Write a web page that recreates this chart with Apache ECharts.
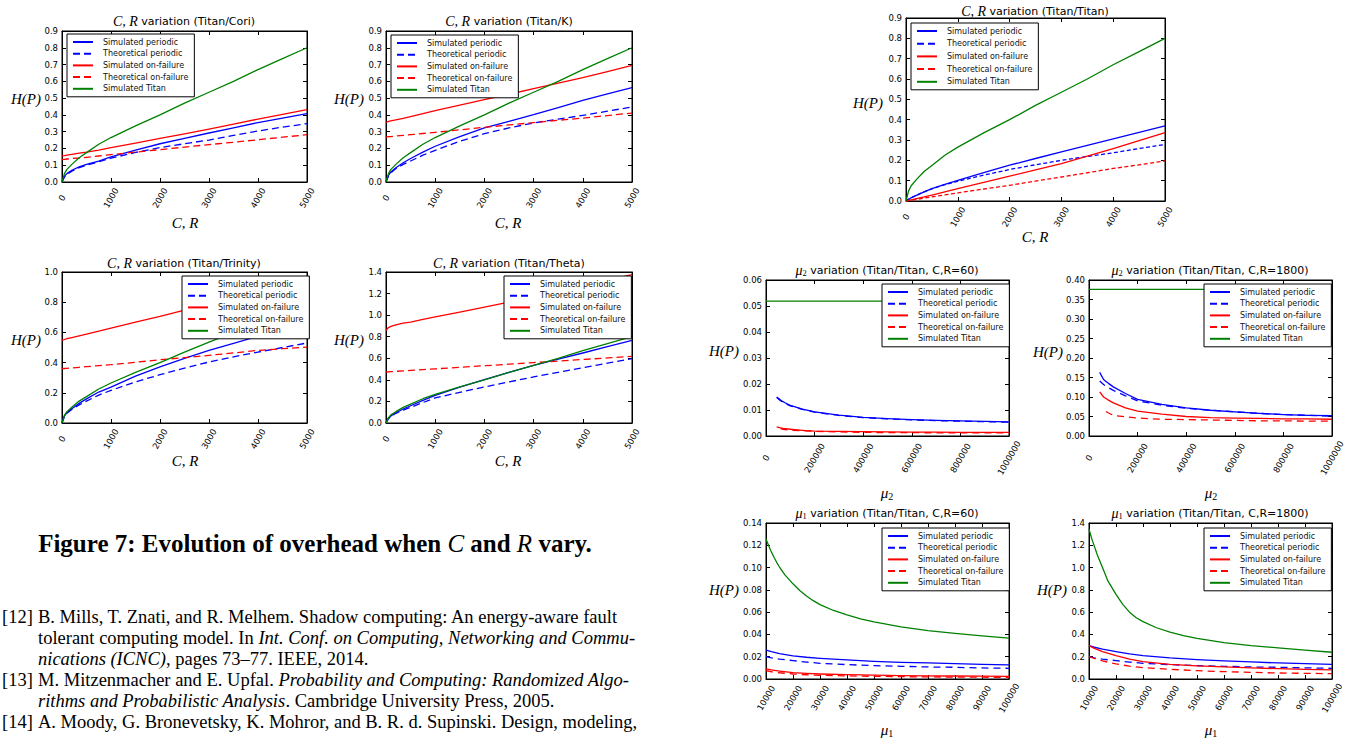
<!DOCTYPE html>
<html><head><meta charset="utf-8">
<script src="https://cdn.jsdelivr.net/npm/echarts@6/dist/echarts.min.js"></script>
<style>html,body{margin:0;padding:0;background:#fff}#c{width:1352px;height:739px}</style>
</head><body><div id="c"></div>
<script>
// ---------------- DATA ----------------
const SERIES_NAMES = ['Simulated periodic', 'Theoretical periodic', 'Simulated on-failure', 'Theoretical on-failure', 'Simulated Titan'];

// C,R variation plots (x = C,R)
const crX = [0, 50, 100, 200, 350, 500, 750, 1000, 1500, 2000, 2500, 3000, 3500, 4000, 4500, 5000];
const titanSimCR = [0.0, 0.05, 0.075, 0.105, 0.145, 0.175, 0.225, 0.265, 0.335, 0.40, 0.47, 0.535, 0.60, 0.67, 0.735, 0.80];

const coriSimPer   = [0, 0.035, 0.05, 0.07, 0.09, 0.105, 0.125, 0.15, 0.19, 0.228, 0.26, 0.292, 0.323, 0.354, 0.381, 0.407];
const coriTheoPer  = [0, 0.03, 0.045, 0.065, 0.085, 0.1, 0.12, 0.142, 0.176, 0.205, 0.228, 0.25, 0.278, 0.304, 0.327, 0.348];
const coriSimFail  = [0.155, 0.157, 0.16, 0.165, 0.172, 0.178, 0.19, 0.205, 0.232, 0.26, 0.287, 0.315, 0.345, 0.375, 0.403, 0.431];
const coriTheoFail = [0.133, 0.135, 0.137, 0.14, 0.143, 0.147, 0.155, 0.163, 0.178, 0.193, 0.208, 0.223, 0.237, 0.252, 0.267, 0.282];

const kSimPer   = [0, 0.04, 0.06, 0.085, 0.115, 0.14, 0.178, 0.213, 0.27, 0.322, 0.362, 0.401, 0.444, 0.487, 0.525, 0.562];
const kTheoPer  = [0, 0.035, 0.055, 0.08, 0.105, 0.125, 0.16, 0.189, 0.243, 0.288, 0.322, 0.352, 0.375, 0.397, 0.422, 0.447];
const kSimFail  = [0.356, 0.361, 0.364, 0.37, 0.379, 0.389, 0.407, 0.425, 0.458, 0.491, 0.523, 0.556, 0.589, 0.622, 0.658, 0.695];
const kTheoFail = [0.268, 0.27, 0.271, 0.274, 0.278, 0.282, 0.289, 0.296, 0.311, 0.326, 0.34, 0.354, 0.368, 0.381, 0.396, 0.411];

const trinitySimPer   = [0, 0.048, 0.068, 0.095, 0.13, 0.16, 0.205, 0.238, 0.31, 0.371, 0.428, 0.481, 0.528, 0.574, 0.622, 0.669];
const trinityTheoPer  = [0, 0.045, 0.065, 0.09, 0.12, 0.145, 0.185, 0.216, 0.272, 0.32, 0.363, 0.404, 0.438, 0.47, 0.5, 0.53];
const trinitySimFail  = [0.547, 0.553, 0.558, 0.566, 0.577, 0.589, 0.609, 0.629, 0.668, 0.706, 0.748, 0.79, 0.828, 0.866, 0.903, 0.94];
const trinityTheoFail = [0.36, 0.361, 0.362, 0.365, 0.369, 0.373, 0.38, 0.386, 0.402, 0.419, 0.433, 0.448, 0.464, 0.481, 0.492, 0.503];

const thetaSimPer   = [0, 0.045, 0.065, 0.095, 0.13, 0.16, 0.21, 0.257, 0.332, 0.402, 0.47, 0.535, 0.592, 0.649, 0.708, 0.766];
const thetaTheoPer  = [0, 0.04, 0.06, 0.09, 0.12, 0.145, 0.19, 0.232, 0.285, 0.334, 0.381, 0.427, 0.47, 0.513, 0.555, 0.597];
const thetaSimFail  = [0.859, 0.885, 0.895, 0.91, 0.925, 0.936, 0.96, 0.983, 1.029, 1.075, 1.121, 1.168, 1.22, 1.272, 1.324, 1.376];
const thetaTheoFail = [0.473, 0.474, 0.476, 0.479, 0.483, 0.488, 0.495, 0.502, 0.516, 0.531, 0.545, 0.56, 0.574, 0.589, 0.603, 0.618];

const titanSimPer   = [0, 0.008, 0.016, 0.028, 0.045, 0.061, 0.082, 0.102, 0.14, 0.176, 0.209, 0.242, 0.274, 0.306, 0.338, 0.369];
const titanTheoPer  = [0, 0.008, 0.016, 0.028, 0.045, 0.06, 0.08, 0.097, 0.127, 0.155, 0.178, 0.2, 0.219, 0.237, 0.258, 0.278];
const titanSimFail  = [0, 0.003, 0.006, 0.012, 0.02, 0.029, 0.045, 0.061, 0.092, 0.122, 0.153, 0.184, 0.221, 0.258, 0.297, 0.336];
const titanTheoFail = [0, 0.002, 0.004, 0.008, 0.014, 0.02, 0.03, 0.04, 0.059, 0.077, 0.098, 0.118, 0.139, 0.16, 0.178, 0.197];

// mu2 variation plots
const mu2X = [44000, 60000, 70000, 80000, 100000, 150000, 200000, 300000, 400000, 500000, 600000, 700000, 800000, 900000, 1000000];
const mu2TitanX = [0, 1000000];
const mu2c60SimPer   = [0.015, 0.0138, 0.0132, 0.0127, 0.0118, 0.0103, 0.00925, 0.008, 0.0072, 0.0067, 0.0063, 0.006, 0.0058, 0.0056, 0.0054];
const mu2c60TheoPer  = [0.0148, 0.0136, 0.013, 0.0125, 0.0116, 0.0102, 0.0092, 0.0079, 0.0071, 0.0066, 0.0062, 0.0059, 0.0057, 0.0055, 0.0053];
const mu2c60SimFail  = [0.0035, 0.0031, 0.0029, 0.0028, 0.0026, 0.0022, 0.0019, 0.0018, 0.0017, 0.0016, 0.0015, 0.0015, 0.0014, 0.0014, 0.0014];
const mu2c60TheoFail = [null, 0.0028, 0.0026, 0.0025, 0.0022, 0.002, 0.0018, 0.0016, 0.0014, 0.0013, 0.0013, 0.0012, 0.0012, 0.0012, 0.0012];
const mu2c60Titan    = [0.0519, 0.0519];
const mu2c1800SimPer   = [0.163, 0.145, 0.14, 0.135, 0.126, 0.109, 0.094, 0.081, 0.072, 0.066, 0.062, 0.058, 0.055, 0.053, 0.052];
const mu2c1800TheoPer  = [0.141, 0.132, 0.128, 0.124, 0.117, 0.103, 0.09, 0.079, 0.071, 0.066, 0.062, 0.058, 0.055, 0.053, 0.051];
const mu2c1800SimFail  = [0.113, 0.1, 0.096, 0.092, 0.085, 0.072, 0.064, 0.056, 0.05, 0.047, 0.046, 0.045, 0.044, 0.044, 0.043];
const mu2c1800TheoFail = [null, null, 0.063, 0.059, 0.053, 0.049, 0.046, 0.043, 0.042, 0.041, 0.04, 0.039, 0.039, 0.038, 0.038];
const mu2c1800Titan    = [0.376, 0.376];

// mu1 variation plots
const mu1X = [10000, 12000, 15000, 20000, 25000, 30000, 40000, 50000, 60000, 70000, 80000, 90000, 100000];
const mu1TitanX = [10000, 11000, 12000, 13000, 14000, 15000, 17000, 20000, 22500, 25000, 27500, 30000, 35000, 40000, 45000, 50000, 60000, 70000, 80000, 90000, 100000];
const mu1c60SimPer   = [0.026, 0.0245, 0.0228, 0.0207, 0.0195, 0.0186, 0.0171, 0.0159, 0.015, 0.0144, 0.0138, 0.0132, 0.0126];
const mu1c60TheoPer  = [0.0201, 0.019, 0.0178, 0.0165, 0.0152, 0.0141, 0.0129, 0.012, 0.0114, 0.0108, 0.0105, 0.0099, 0.0096];
const mu1c60SimFail  = [0.009, 0.0081, 0.0071, 0.0057, 0.005, 0.0045, 0.0039, 0.0034, 0.003, 0.0028, 0.0027, 0.0025, 0.0024];
const mu1c60TheoFail = [0.0075, 0.0065, 0.0056, 0.0045, 0.0038, 0.0033, 0.0028, 0.0024, 0.0021, 0.0019, 0.0017, 0.0016, 0.0015];
const mu1c60Titan    = [0.1256, 0.1195, 0.114, 0.109, 0.1045, 0.1005, 0.0935, 0.0854, 0.0795, 0.0745, 0.0703, 0.0668, 0.0615, 0.0576, 0.054, 0.0512, 0.0468, 0.0435, 0.041, 0.0387, 0.0366];
const mu1c1800SimPer   = [0.30, 0.285, 0.268, 0.246, 0.226, 0.21, 0.189, 0.174, 0.162, 0.153, 0.144, 0.138, 0.132];
const mu1c1800TheoPer  = [0.2, 0.19, 0.178, 0.165, 0.152, 0.141, 0.129, 0.12, 0.114, 0.108, 0.105, 0.1, 0.096];
const mu1c1800SimFail  = [0.30, 0.275, 0.246, 0.21, 0.178, 0.156, 0.132, 0.117, 0.108, 0.099, 0.093, 0.087, 0.081];
const mu1c1800TheoFail = [0.2, 0.184, 0.162, 0.135, 0.115, 0.102, 0.087, 0.075, 0.066, 0.06, 0.054, 0.051, 0.048];
const mu1c1800Titan    = [1.346, 1.26, 1.19, 1.12, 1.06, 1.0, 0.88, 0.76, 0.67, 0.6, 0.55, 0.515, 0.46, 0.42, 0.39, 0.365, 0.327, 0.30, 0.28, 0.26, 0.24];

// Text
const captionText = '{b|Figure 7: Evolution of overhead when }{i|C}{b| and }{i|R}{b| vary.}';
const refLabels = ['[12]', '', '', '[13]', '', '[14]'];
const refLines = [
  'B. Mills, T. Znati, and R. Melhem. Shadow computing: An energy-aware fault',
  'tolerant computing model. In {i|Int. Conf. on Computing, Networking and Commu-}',
  '{i|nications (ICNC)}, pages 73–77. IEEE, 2014.',
  'M. Mitzenmacher and E. Upfal. {i|Probability and Computing: Randomized Algo-}',
  '{i|rithms and Probabilistic Analysis}. Cambridge University Press, 2005.',
  'A. Moody, G. Bronevetsky, K. Mohror, and B. R. d. Supinski. Design, modeling,'
];

// ---------------- LAYOUT ----------------
const COLORS = ['#0000ff', '#0000ff', '#ff0000', '#ff0000', '#008000'];
const DASHED = [false, true, false, true, false];
const crTitle = (s) => '{i|C, R}{n| variation (' + s + ')}';
const muTitle = (k, s) => '{i|μ}{s|' + k + '}{n| variation (' + s + ')}';

const charts = [
  { grid: [62, 31, 245, 151], xMin: 0, xMax: 5000, xInt: 1000, yMax: 0.9, yInt: 0.1, yDec: 1, xMargin: 16,
    data: [[crX, coriSimPer], [crX, coriTheoPer], [crX, coriSimFail], [crX, coriTheoFail], [crX, titanSimCR]],
    title: crTitle('Titan/Cori'), titlePos: [184, 21], yNamePos: [26, 99], xName: '{i|C, R}', xNamePos: [185, 223],
    legend: [67, 34], gap: 3.7, dash: [7, 4] },
  { grid: [386, 31, 246, 151], xMin: 0, xMax: 5000, xInt: 1000, yMax: 0.9, yInt: 0.1, yDec: 1, xMargin: 16,
    data: [[crX, kSimPer], [crX, kTheoPer], [crX, kSimFail], [crX, kTheoFail], [crX, titanSimCR]],
    title: crTitle('Titan/K'), titlePos: [509, 21], yNamePos: [349, 99], xName: '{i|C, R}', xNamePos: [508, 223],
    legend: [391, 35], gap: 3.7, dash: [7, 4] },
  { grid: [62, 272, 245, 151], xMin: 0, xMax: 5000, xInt: 1000, yMax: 1.0, yInt: 0.2, yDec: 1, xMargin: 16,
    data: [[crX, trinitySimPer], [crX, trinityTheoPer], [crX, trinitySimFail], [crX, trinityTheoFail], [crX, titanSimCR]],
    title: crTitle('Titan/Trinity'), titlePos: [184, 263], yNamePos: [26, 340], xName: '{i|C, R}', xNamePos: [185, 461],
    legend: [182, 276], gap: 3.7, dash: [7, 4] },
  { grid: [386, 272, 246, 151], xMin: 0, xMax: 5000, xInt: 1000, yMax: 1.4, yInt: 0.2, yDec: 1, xMargin: 16,
    data: [[crX, thetaSimPer], [crX, thetaTheoPer], [crX, thetaSimFail], [crX, thetaTheoFail], [crX, titanSimCR]],
    title: crTitle('Titan/Theta'), titlePos: [509, 263], yNamePos: [349, 340], xName: '{i|C, R}', xNamePos: [508, 461],
    legend: [504, 276], gap: 3.7, dash: [7, 4] },
  { grid: [906, 18, 259, 183], xMin: 0, xMax: 5000, xInt: 1000, yMax: 0.9, yInt: 0.1, yDec: 1, xMargin: 16,
    data: [[crX, titanSimPer], [crX, titanTheoPer], [crX, titanSimFail], [crX, titanTheoFail], [crX, titanSimCR]],
    title: crTitle('Titan/Titan'), titlePos: [1035, 11], yNamePos: [868, 103], xName: '{i|C, R}', xNamePos: [1035, 237],
    legend: [911, 23], gap: 4.7, dash: [4, 2.5] },
  { grid: [766, 280, 243, 156], xMin: 0, xMax: 1000000, xInt: 200000, yMax: 0.06, yInt: 0.01, yDec: 2, xMargin: 22,
    data: [[mu2X, mu2c60SimPer], [mu2X, mu2c60TheoPer], [mu2X, mu2c60SimFail], [mu2X, mu2c60TheoFail], [mu2TitanX, mu2c60Titan]],
    title: muTitle(2, 'Titan/Titan, C,R=60'), titlePos: [887, 270], yNamePos: [724, 351], xName: '{i|μ}{s|2}', xNamePos: [887, 493],
    legend: [882, 284], gap: 3.7, dash: [7, 5] },
  { grid: [1089, 280, 243, 156], xMin: 0, xMax: 1000000, xInt: 200000, yMax: 0.40, yInt: 0.05, yDec: 2, xMargin: 22,
    data: [[mu2X, mu2c1800SimPer], [mu2X, mu2c1800TheoPer], [mu2X, mu2c1800SimFail], [mu2X, mu2c1800TheoFail], [mu2TitanX, mu2c1800Titan]],
    title: muTitle(2, 'Titan/Titan, C,R=1800'), titlePos: [1210, 270], yNamePos: [1048, 352], xName: '{i|μ}{s|2}', xNamePos: [1211, 493],
    legend: [1204, 284], gap: 3.7, dash: [7, 5] },
  { grid: [766, 523, 243, 156], xMin: 10000, xMax: 100000, xInt: 10000, yMax: 0.14, yInt: 0.02, yDec: 2, xMargin: 19,
    data: [[mu1X, mu1c60SimPer], [mu1X, mu1c60TheoPer], [mu1X, mu1c60SimFail], [mu1X, mu1c60TheoFail], [mu1TitanX, mu1c60Titan]],
    title: muTitle(1, 'Titan/Titan, C,R=60'), titlePos: [887, 513], yNamePos: [724, 590], xName: '{i|μ}{s|1}', xNamePos: [887, 730],
    legend: [882, 528], gap: 3.7, dash: [7, 5] },
  { grid: [1089, 523, 243, 156], xMin: 10000, xMax: 100000, xInt: 10000, yMax: 1.4, yInt: 0.2, yDec: 1, xMargin: 19,
    data: [[mu1X, mu1c1800SimPer], [mu1X, mu1c1800TheoPer], [mu1X, mu1c1800SimFail], [mu1X, mu1c1800TheoFail], [mu1TitanX, mu1c1800Titan]],
    title: muTitle(1, 'Titan/Titan, C,R=1800'), titlePos: [1210, 513], yNamePos: [1052, 590], xName: '{i|μ}{s|1}', xNamePos: [1211, 730],
    legend: [1204, 528], gap: 3.7, dash: [7, 5] }
];

const SANS = '"DejaVu Sans", sans-serif';
const SERIF = '"Liberation Serif", "DejaVu Serif", serif';
const mathRich = {
  i: { fontFamily: SERIF, fontStyle: 'italic', fontSize: 15, fill: '#000' },
  s: { fontFamily: SERIF, fontSize: 10, fill: '#000', padding: [7, 0, 0, 0] }
};
const titleRich = {
  i: { fontFamily: SERIF, fontStyle: 'italic', fontSize: 14, fill: '#000' },
  s: { fontFamily: SERIF, fontSize: 8.5, fill: '#000', padding: [5, 0, 0, 0] },
  n: { fontFamily: SANS, fontSize: 11, fill: '#000' }
};

const grid = [], xAxis = [], yAxis = [], series = [], legend = [], elements = [];

function axisBase(pos) {
  return {
    position: pos,
    axisLine: { show: true, onZero: false, lineStyle: { color: '#000', width: 1 } },
    axisTick: { show: true, inside: true, length: 4, lineStyle: { color: '#000', width: 1 } },
    splitLine: { show: false }
  };
}

charts.forEach((c, i) => {
  grid.push({ left: c.grid[0], top: c.grid[1], width: c.grid[2], height: c.grid[3], show: true,
    borderColor: '#000', borderWidth: 1, backgroundColor: '#fff', containLabel: false });
  xAxis.push(Object.assign(axisBase('bottom'), {
    gridIndex: i, type: 'value', min: c.xMin, max: c.xMax, interval: c.xInt,
    axisLabel: { show: true, interval: 0, rotate: 60, align: 'center', verticalAlign: 'middle', margin: c.xMargin,
      fontSize: 8.5, fontFamily: SANS, color: '#000', showMinLabel: true, showMaxLabel: true, hideOverlap: false,
      formatter: (v) => String(v) }
  }));
  xAxis.push(Object.assign(axisBase('top'), {
    gridIndex: i, type: 'value', min: c.xMin, max: c.xMax, interval: c.xInt, axisLabel: { show: false }
  }));
  yAxis.push(Object.assign(axisBase('left'), {
    gridIndex: i, type: 'value', min: 0, max: c.yMax, interval: c.yInt,
    axisLabel: { show: true, margin: 4, fontSize: 8.5, fontFamily: SANS, color: '#000', showMinLabel: true, showMaxLabel: true,
      formatter: (v) => Number(v).toFixed(c.yDec) }
  }));
  yAxis.push(Object.assign(axisBase('right'), {
    gridIndex: i, type: 'value', min: 0, max: c.yMax, interval: c.yInt, axisLabel: { show: false }
  }));

  c.data.forEach((d, k) => {
    const pts = [];
    d[0].forEach((x, j) => { if (d[1][j] !== null && d[1][j] !== undefined) pts.push([x, d[1][j]]); });
    series.push({
      type: 'line', name: SERIES_NAMES[k], xAxisIndex: 2 * i, yAxisIndex: 2 * i, data: pts,
      symbol: 'none', showSymbol: false, smooth: false, silent: true, animation: false, clip: true,
      lineStyle: { color: COLORS[k], width: 1.3, type: DASHED[k] ? c.dash : 'solid', join: 'round' },
      itemStyle: { color: COLORS[k] }
    });
  });

  legend.push({
    left: c.legend[0], top: c.legend[1], orient: 'vertical', data: SERIES_NAMES, selectedMode: false,
    itemWidth: 20, itemHeight: 8, itemGap: c.gap, padding: [4, 6, 4, 5],
    borderColor: '#000', borderWidth: 1, borderRadius: 0, backgroundColor: '#fff',
    itemStyle: { opacity: 0, borderWidth: 0 },
    textStyle: { fontSize: 8, fontFamily: SANS, color: '#111', padding: [0, 0, 0, 5] }
  });

  elements.push({ type: 'text', x: c.titlePos[0], y: c.titlePos[1], silent: true,
    style: { text: c.title, align: 'center', verticalAlign: 'middle', rich: titleRich, fill: '#000', fontSize: 11, fontFamily: SANS } });
  elements.push({ type: 'text', x: c.yNamePos[0], y: c.yNamePos[1], silent: true,
    style: { text: 'H(P)', align: 'center', verticalAlign: 'middle', fill: '#000', fontSize: 15, fontStyle: 'italic', fontFamily: SERIF } });
  elements.push({ type: 'text', x: c.xNamePos[0], y: c.xNamePos[1], silent: true,
    style: { text: c.xName, align: 'center', verticalAlign: 'middle', rich: mathRich, fill: '#000', fontSize: 15, fontFamily: SERIF } });
});

// caption
elements.push({ type: 'text', x: 315, y: 543, silent: true,
  style: { text: captionText, align: 'center', verticalAlign: 'middle', fill: '#000',
    rich: { b: { fontFamily: SERIF, fontWeight: 'bold', fontSize: 25, fill: '#000' },
            i: { fontFamily: SERIF, fontStyle: 'italic', fontSize: 25, fill: '#000' } } } });

// references
const refY = [617, 638, 659, 680, 701, 722];
refLines.forEach((t, j) => {
  if (refLabels[j]) {
    elements.push({ type: 'text', x: 2, y: refY[j], silent: true,
      style: { text: refLabels[j], align: 'left', verticalAlign: 'middle', fill: '#000', fontSize: 18.5, fontFamily: SERIF } });
  }
  elements.push({ type: 'text', x: 38, y: refY[j], silent: true,
    style: { text: '{r|' + t.replace(/\{i\|([^}]*)\}/g, '}{i|$1}{r|') + '}', align: 'left', verticalAlign: 'middle', fill: '#000',
      rich: { r: { fontFamily: SERIF, fontSize: 18.5, fill: '#000' },
              i: { fontFamily: SERIF, fontStyle: 'italic', fontSize: 18.5, fill: '#000' } } } });
});

const chart = echarts.init(document.getElementById('c'), null, { renderer: 'svg', width: 1352, height: 739 });
chart.setOption({
  animation: false,
  backgroundColor: '#fff',
  grid, xAxis, yAxis, series, legend,
  graphic: { elements }
});
</script></body></html>
